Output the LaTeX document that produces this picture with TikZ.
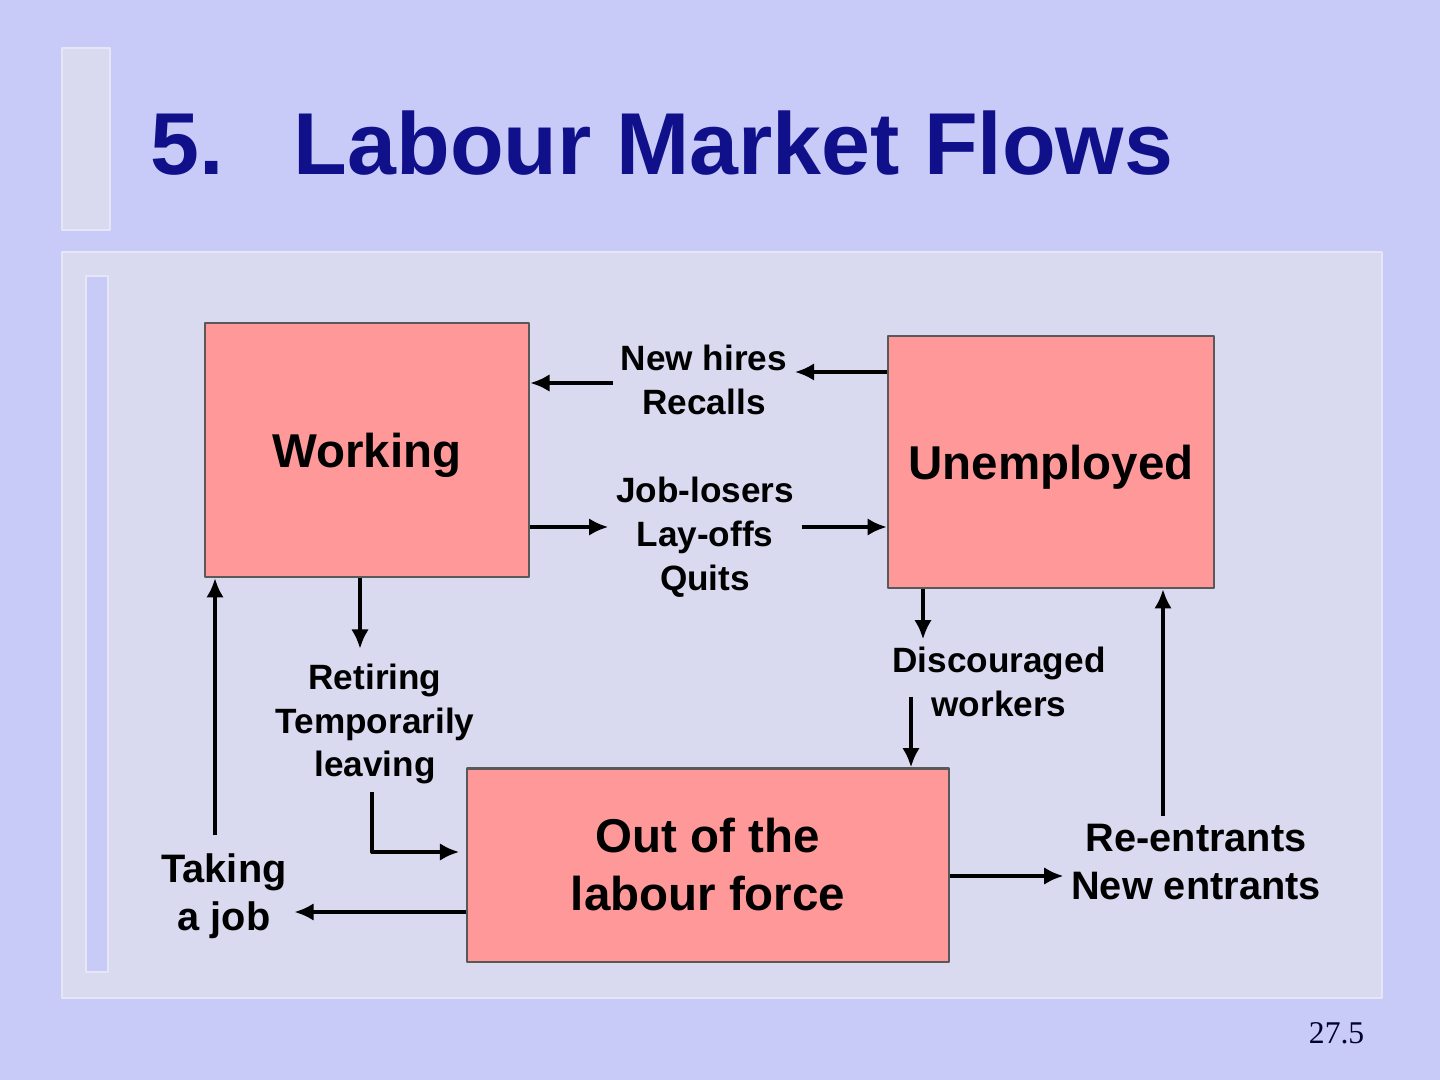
\documentclass[tikz,border=0pt]{standalone}
\usepackage{fontspec}
\setmainfont{Liberation Sans}
\newfontfamily\pagefont{Liberation Serif}
\usetikzlibrary{arrows.meta}
\definecolor{slidebg}{RGB}{200,202,248}
\definecolor{panelbg}{RGB}{217,218,240}
\definecolor{paneledge}{RGB}{230,231,246}
\definecolor{titleblue}{RGB}{16,16,138}
\definecolor{boxred}{RGB}{255,153,153}
\begin{document}
\begin{tikzpicture}[x=0.01cm,y=-0.01cm,>={Latex[length=5.5pt,width=5pt]},line join=round,
	state/.style={draw=black!65,line width=0.6pt,fill=boxred,align=center,font=\bfseries\fontsize{13.5}{16.5}\selectfont},
	flow/.style={align=center,inner sep=2pt,font=\bfseries\fontsize{10}{12.5}\selectfont},
	bigflow/.style={align=center,inner sep=2pt,font=\bfseries\fontsize{11.3}{13.6}\selectfont},
	link/.style={->,line width=1.15pt}]
	% slide background
	\fill[slidebg] (0,0) rectangle (1440,1080);
	\useasboundingbox (0,0) rectangle (1440,1080);
	\draw[fill=panelbg,draw=paneledge,line width=0.8pt] (62,48) rectangle (110,230);
	\draw[fill=panelbg,draw=paneledge,line width=0.8pt] (62,252) rectangle (1382,998);
	\draw[fill=slidebg,draw=paneledge,line width=0.8pt] (86,276) rectangle (108,972);
	% title and page number
	\node[anchor=base west,inner sep=0,text=titleblue,font=\bfseries\fontsize{25}{30}\selectfont] (title) at (150,175) {5.\hspace{19.9pt}Labour Market Flows};
	\node[anchor=base east,inner sep=0,text=black!80!blue,font=\pagefont\fontsize{9}{11}\selectfont] (page) at (1365,1043) {27.5};
	% the three states
	\node[state,text depth=0pt,minimum width=3.24cm,minimum height=2.54cm] (work) at (367,450) {Working};
	\node[state,text depth=0pt,minimum width=3.26cm,minimum height=2.52cm] (unemp) at (1051,462) {Unemployed};
	\node[state,minimum width=4.81cm,minimum height=1.93cm] (out) at (708,865) {Out of the\\labour force};
	% flow labels
	\node[flow] (hires) at (704,380) {New hires\\Recalls};
	\node[flow] (losers) at (705,537) {Job-losers\\Lay-offs\\Quits};
	\node[flow] (retire) at (375,724) {Retiring\\Temporarily\\leaving};
	\node[flow] (disc) at (999,682) {Discouraged\\workers};
	\node[bigflow] (taking) at (224,896) {Taking\\a job};
	\node[bigflow] (reent) at (1196,862) {Re-entrants\\New entrants};
	\coordinate (dw) at (911,697);
	% flows
	\draw[link] (unemp.west |- 0,372) -- (hires.east |- 0,372);
	\draw[link] (hires.west |- 0,383) -- (work.east |- 0,383);
	\draw[link] (work.east |- 0,527) -- (losers.west |- 0,527);
	\draw[link] (losers.east |- 0,527) -- (unemp.west |- 0,527);
	\draw[link] (work.south -| 360,0) -- ([yshift=2pt]retire.north -| 360,0);
	\draw[link] (retire.south -| 372,0) |- ([xshift=-2pt]out.west |- 0,852);
	\draw[link] ([yshift=3pt]taking.north -| 215,0) -- (work.south -| 215,0);
	\draw[link] (out.west |- 0,912) -- (taking.east |- 0,912);
	\draw[link] (unemp.south -| 923,0) -- (disc.north -| 923,0);
	\draw[link] (dw) -- (dw |- out.north);
	\draw[link] (out.east |- 0,876) -- (reent.west |- 0,876);
	\draw[link] (reent.north -| 1163,0) -- (unemp.south -| 1163,0);
\end{tikzpicture}
\end{document}
